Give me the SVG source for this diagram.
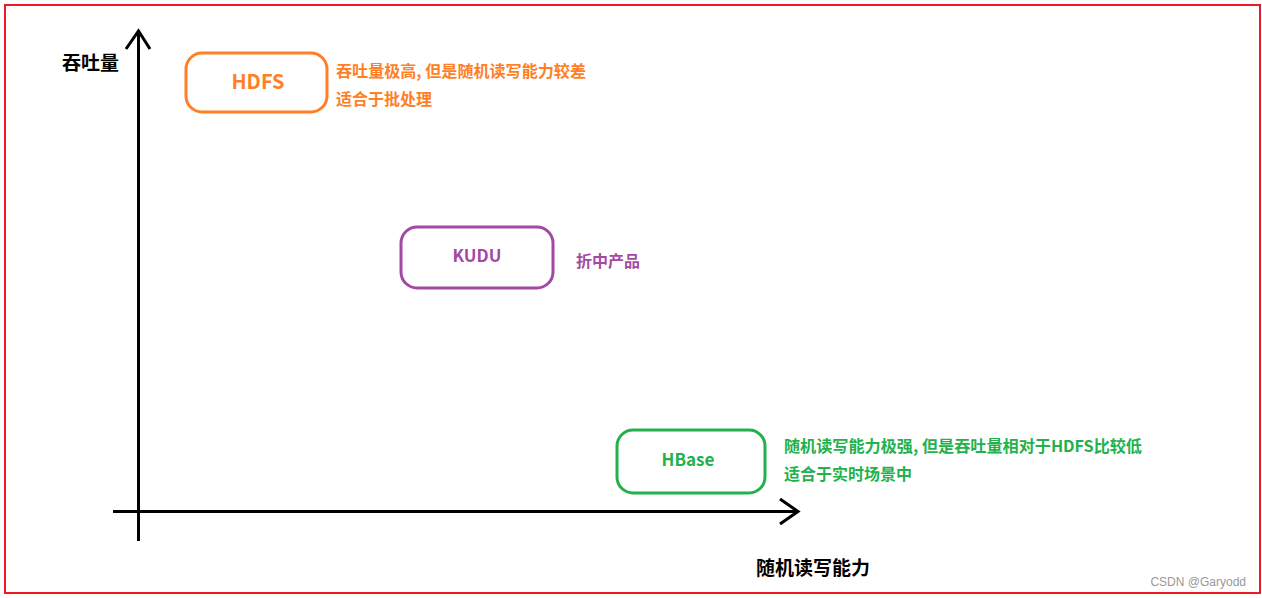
<svg xmlns="http://www.w3.org/2000/svg" width="1262" height="598" viewBox="0 0 1262 598">
<defs>
<style>
text{font-family:"Noto Sans CJK SC","Noto Sans",sans-serif;font-weight:700}
.axis{stroke:#000;stroke-width:3;fill:none}
.box{fill:#fff;stroke-width:3}
.lbl{font-size:19px;fill:#000}
.orange{fill:#FF7F27}
.purple{fill:#A349A4}
.green{fill:#22B14C}
.ann{font-size:16px}
.node{font-size:17px;text-anchor:middle}
</style>
</defs>
<rect x="0" y="0" width="1262" height="598" fill="#fff"/>
<rect x="5" y="5" width="1255" height="588" fill="none" stroke="#ED1C24" stroke-width="2"/>
<g id="connectors">
<line class="axis" x1="138.5" y1="31" x2="138.5" y2="541"/>
<polyline class="axis" points="126,49 138.5,31 150,49"/>
<line class="axis" x1="113" y1="511.5" x2="798" y2="511.5"/>
<polyline class="axis" points="780,499 798,511.5 780,524"/>
</g>
<g id="axis-labels">
<text class="lbl" x="62" y="70">吞吐量</text>
<text class="lbl" x="756" y="575">随机读写能力</text>
</g>
<g id="hdfs">
<rect class="box" x="186" y="53" width="141" height="59" rx="16" stroke="#FF7F27"/>
<text class="node orange" x="258" y="89" style="font-size:20px">HDFS</text>
<text class="ann orange" x="336" y="77" textLength="250" lengthAdjust="spacingAndGlyphs">吞吐量极高, 但是随机读写能力较差</text>
<text class="ann orange" x="336" y="105">适合于批处理</text>
</g>
<g id="kudu">
<rect class="box" x="401" y="227" width="152" height="61" rx="16" stroke="#A349A4"/>
<text class="node purple" x="477" y="262">KUDU</text>
<text class="ann purple" x="576" y="267">折中产品</text>
</g>
<g id="hbase">
<rect class="box" x="617" y="430" width="148" height="63" rx="16" stroke="#22B14C"/>
<text class="node green" x="688" y="466">HBase</text>
<text class="ann green" x="784" y="452" textLength="358" lengthAdjust="spacingAndGlyphs">随机读写能力极强, 但是吞吐量相对于HDFS比较低</text>
<text class="ann green" x="784" y="480">适合于实时场景中</text>
</g>
<text x="1246" y="586" text-anchor="end" style="font-family:'Liberation Sans',sans-serif;font-weight:400;font-size:12px;fill:#999">CSDN @Garyodd</text>
</svg>
